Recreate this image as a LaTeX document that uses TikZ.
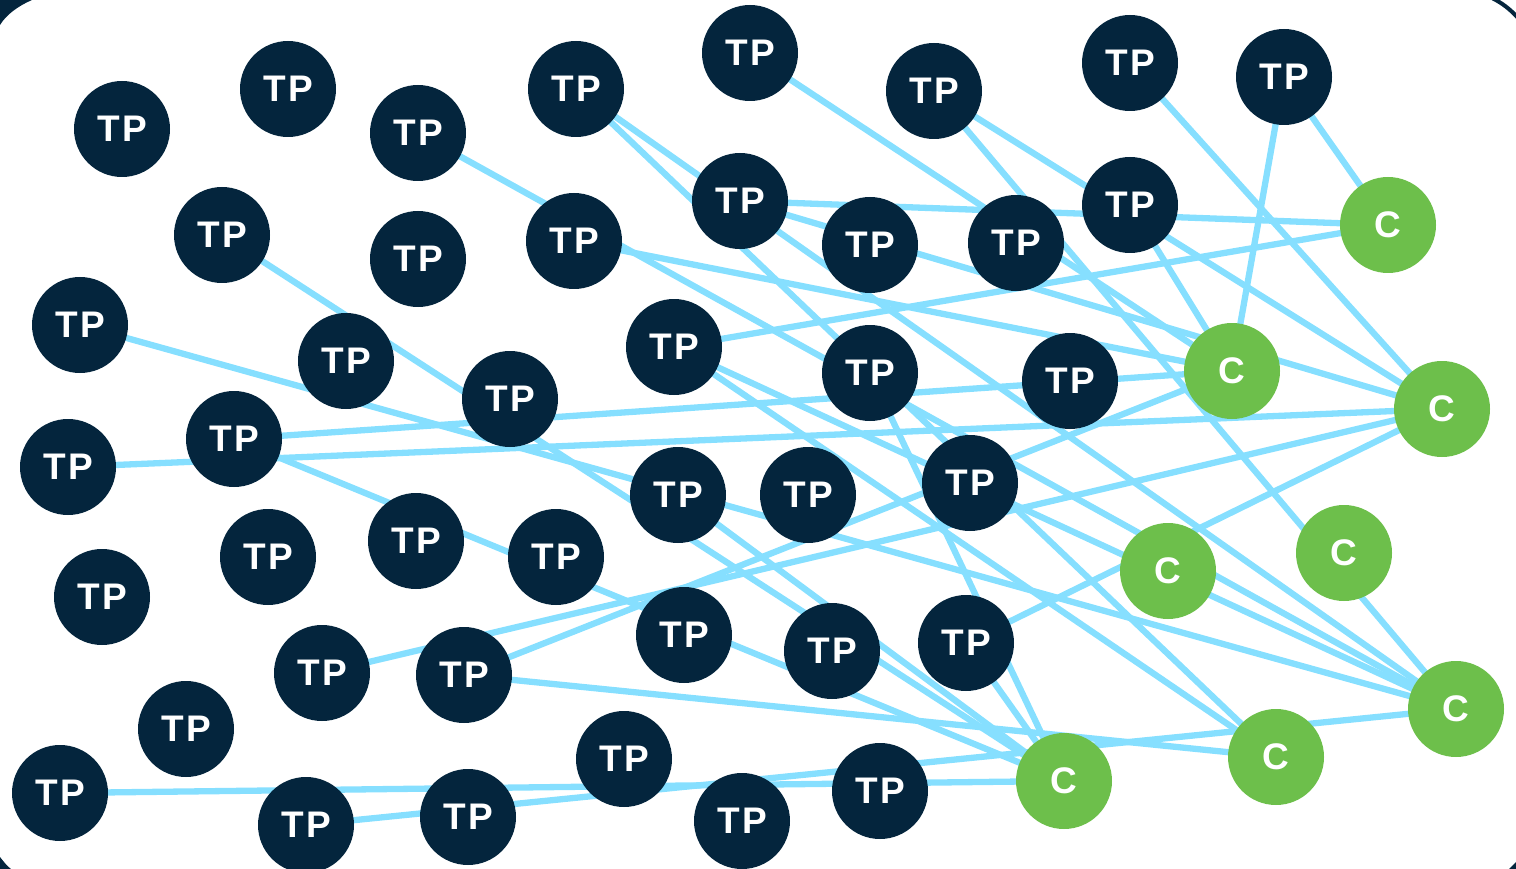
\documentclass[tikz,border=0pt]{standalone}
\usepackage{fontspec}
\setmainfont{Liberation Sans}
\definecolor{navy}{HTML}{04253D}
\definecolor{leaf}{HTML}{6DBF4B}
\definecolor{wire}{HTML}{86DFFF}
\pgfdeclarelayer{bg}
\pgfsetlayers{bg,main}
\newcommand{\tpl}{T\kern2.5pt P}
\begin{document}
\begin{tikzpicture}[x=1pt,y=-1pt,
  tp/.style={circle,fill=navy,minimum size=96pt,inner sep=0pt,text=white,font=\fontsize{37}{37}\selectfont\bfseries},
  cc/.style={circle,fill=leaf,minimum size=96pt,inner sep=0pt,text=white,font=\fontsize{37}{37}\selectfont\bfseries},
  link/.style={wire,line width=6.3pt}]
\useasboundingbox (0,0) rectangle (1516,869);
% frame corners
\fill[navy] (0,0) -- (32,0) .. controls (18,6) and (6,15) .. (0,25) -- cycle;
\draw[navy,line width=4pt] (1492,-2) .. controls (1502,3) and (1510,9) .. (1518,18);
\fill[navy] (0,857) .. controls (4,862) and (7,866) .. (11,869) -- (0,869) -- cycle;
\fill[navy] (1516,862) -- (1516,869) -- (1509,869) -- cycle;
% nodes
\node[tp] (t1) at (122,129) {\tpl};
\node[tp] (t2) at (288,89) {\tpl};
\node[tp] (t3) at (418,133) {\tpl};
\node[tp] (t4) at (576,89) {\tpl};
\node[tp] (t5) at (750,53) {\tpl};
\node[tp] (t6) at (934,91) {\tpl};
\node[tp] (t7) at (1130,63) {\tpl};
\node[tp] (t8) at (1284,77) {\tpl};
\node[tp] (t9) at (222,235) {\tpl};
\node[tp] (t10) at (418,259) {\tpl};
\node[tp] (t11) at (574,241) {\tpl};
\node[tp] (t12) at (740,201) {\tpl};
\node[tp] (t13) at (870,245) {\tpl};
\node[tp] (t14) at (1016,243) {\tpl};
\node[tp] (t15) at (1130,205) {\tpl};
\node[tp] (t16) at (80,325) {\tpl};
\node[tp] (t17) at (346,361) {\tpl};
\node[tp] (t18) at (510,399) {\tpl};
\node[tp] (t19) at (674,347) {\tpl};
\node[tp] (t20) at (870,373) {\tpl};
\node[tp] (t21) at (1070,381) {\tpl};
\node[tp] (t22) at (68,467) {\tpl};
\node[tp] (t23) at (234,439) {\tpl};
\node[tp] (t24) at (678,495) {\tpl};
\node[tp] (t25) at (808,495) {\tpl};
\node[tp] (t26) at (970,483) {\tpl};
\node[tp] (t27) at (102,597) {\tpl};
\node[tp] (t28) at (268,557) {\tpl};
\node[tp] (t29) at (416,541) {\tpl};
\node[tp] (t30) at (556,557) {\tpl};
\node[tp] (t31) at (684,635) {\tpl};
\node[tp] (t32) at (832,651) {\tpl};
\node[tp] (t33) at (966,643) {\tpl};
\node[tp] (t34) at (322,673) {\tpl};
\node[tp] (t35) at (464,675) {\tpl};
\node[tp] (t36) at (186,729) {\tpl};
\node[tp] (t37) at (624,759) {\tpl};
\node[tp] (t38) at (60,793) {\tpl};
\node[tp] (t39) at (306,825) {\tpl};
\node[tp] (t40) at (468,817) {\tpl};
\node[tp] (t41) at (742,821) {\tpl};
\node[tp] (t42) at (880,791) {\tpl};
\node[cc] (c1) at (1388,225) {C};
\node[cc] (c2) at (1232,371) {C};
\node[cc] (c3) at (1442,409) {C};
\node[cc] (c4) at (1168,571) {C};
\node[cc] (c5) at (1344,553) {C};
\node[cc] (c6) at (1456,709) {C};
\node[cc] (c7) at (1276,757) {C};
\node[cc] (c8) at (1064,781) {C};
% links behind nodes
\begin{pgfonlayer}{bg}
\foreach \a/\b in {t8/c1,t12/c1,t19/c1,
  t8/c2,t15/c2,t5/c2,t11/c2,t23/c2,t35/c2,
  t7/c3,t6/c3,t12/c3,t22/c3,t34/c3,t33/c3,
  t6/c6,t4/c6,t16/c6,t3/c6,t19/c6,t39/c6,
  t4/c7,t19/c7,t35/c7,
  t23/c8,t38/c8,t20/c8,t9/c8,t24/c8,t33/c8}
  \draw[link] (\a.center) -- (\b.center);
\end{pgfonlayer}
\end{tikzpicture}
\end{document}
